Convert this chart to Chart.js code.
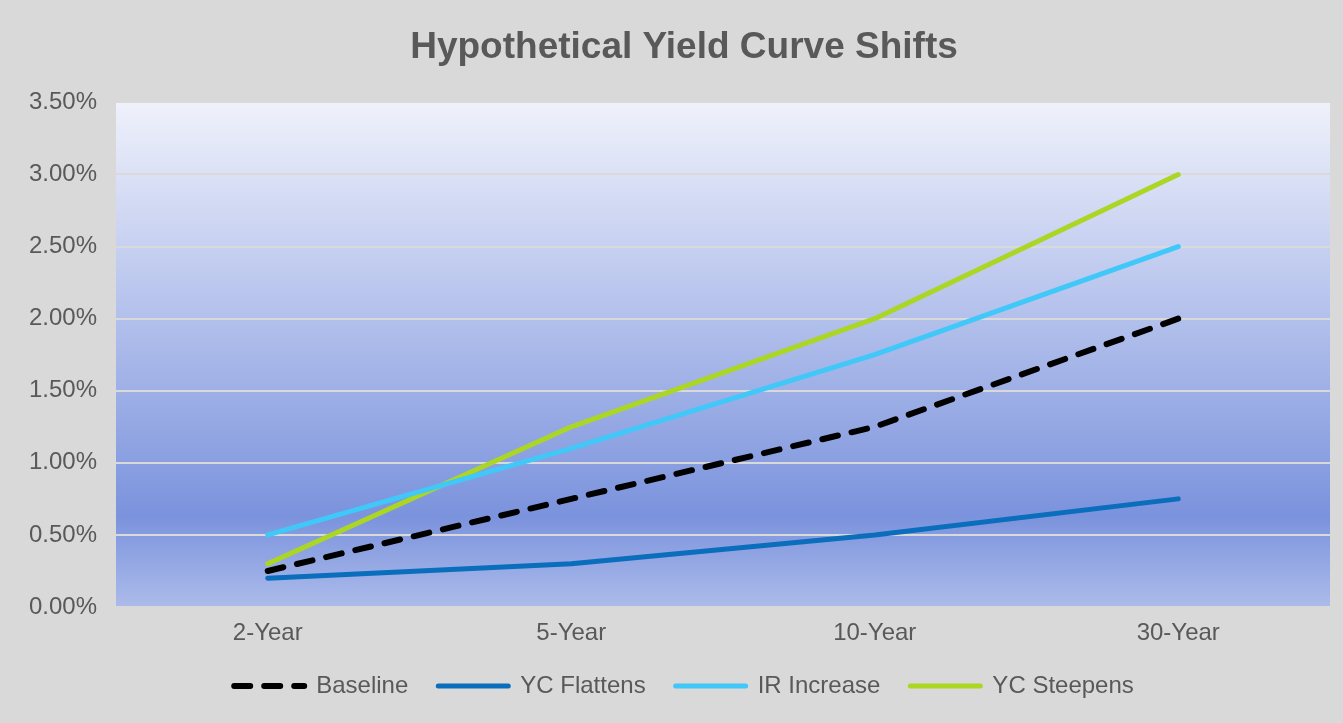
<!DOCTYPE html>
<html><head><meta charset="utf-8">
<script src="https://cdn.jsdelivr.net/npm/chart.js@4/dist/chart.umd.min.js"></script>
<style>html,body{margin:0;padding:0;background:#d9d9d9;}#wrap{width:1343px;height:723px;}</style>
</head><body><div id="wrap"><canvas id="c" width="1343" height="723"></canvas></div>
<script>
const categories = ['2-Year', '5-Year', '10-Year', '30-Year'];
const baseline = [0.25, 0.75, 1.25, 2.00];
const ycFlattens = [0.20, 0.30, 0.50, 0.75];
const irIncrease = [0.50, 1.10, 1.75, 2.50];
const ycSteepens = [0.30, 1.25, 2.00, 3.00];
const seriesNames = ['Baseline', 'YC Flattens', 'IR Increase', 'YC Steepens'];

const bgPlugin = {
  id: 'bg',
  afterLayout(chart) {
    for (const b of [chart.titleBlock, chart.legend]) {
      if (b) { b.left += 19; b.right += 19; }
    }
  },
  beforeDraw(chart) {
    const {ctx, chartArea: a} = chart;
    ctx.save();
    ctx.fillStyle = '#d9d9d9';
    ctx.fillRect(0, 0, chart.width, chart.height);
    const g = ctx.createLinearGradient(0, a.top, 0, a.bottom);
    g.addColorStop(0, '#eff1fb');
    g.addColorStop(0.82, '#7b93dd');
    g.addColorStop(1, '#acbbea');
    ctx.fillStyle = g;
    ctx.fillRect(a.left, a.top, a.right - a.left, a.bottom - a.top);
    ctx.restore();
  }
};

const font = 'Liberation Sans, Arial, sans-serif';
new Chart(document.getElementById('c'), {
  type: 'line',
  data: {
    labels: categories,
    datasets: [
      {label: seriesNames[0], data: baseline, borderColor: '#000000', backgroundColor: '#000000', borderWidth: 6, borderDash: [16, 14], borderCapStyle: 'round', order: 0},
      {label: seriesNames[1], data: ycFlattens, borderColor: '#0a6ebd', backgroundColor: '#0a6ebd', borderWidth: 5, borderCapStyle: 'round', order: 1},
      {label: seriesNames[2], data: irIncrease, borderColor: '#3fc8f8', backgroundColor: '#3fc8f8', borderWidth: 5, borderCapStyle: 'round', order: 2},
      {label: seriesNames[3], data: ycSteepens, borderColor: '#abd623', backgroundColor: '#abd623', borderWidth: 5, borderCapStyle: 'round', order: 3}
    ]
  },
  options: {
    responsive: false,
    animation: false,
    devicePixelRatio: 1,
    layout: {padding: {left: 0, right: 13, top: 0, bottom: 15}},
    elements: {point: {radius: 0, hoverRadius: 0}, line: {tension: 0, borderJoinStyle: 'round'}},
    plugins: {
      title: {display: true, text: 'Hypothetical Yield Curve Shifts', color: '#595959',
        font: {family: font, size: 37, weight: 'bold'}, padding: {top: 26, bottom: 32}},
      legend: {position: 'bottom',
        labels: {usePointStyle: true, pointStyle: 'line', pointStyleWidth: 70, boxHeight: 24, padding: 30,
          color: '#595959', font: {family: font, size: 24},
          generateLabels(chart) {
            const items = Chart.defaults.plugins.legend.labels.generateLabels(chart);
            items.forEach((it, i) => {
              const ds = chart.data.datasets[i];
              it.lineDash = ds.borderDash || [];
              it.lineWidth = ds.borderWidth;
              it.lineCap = 'round';
              it.strokeStyle = ds.borderColor;
              it.fillStyle = ds.borderColor;
            });
            return items;
          }}},
      tooltip: {enabled: false}
    },
    scales: {
      x: {
        offset: true,
        grid: {display: false, drawTicks: false},
        border: {display: false},
        ticks: {color: '#595959', font: {family: font, size: 24}, padding: 12},
        afterFit(s) { s.height = 37; }
      },
      y: {
        min: 0, max: 3.5,
        grid: {color: '#d9d9d9', lineWidth: 2, drawTicks: false},
        border: {display: false},
        ticks: {stepSize: 0.5, color: '#595959', font: {family: font, size: 24}, padding: 19,
          callback: v => v.toFixed(2) + '%'},
        afterFit(s) { s.width = 116; }
      }
    }
  },
  plugins: [bgPlugin]
});
</script></body></html>
